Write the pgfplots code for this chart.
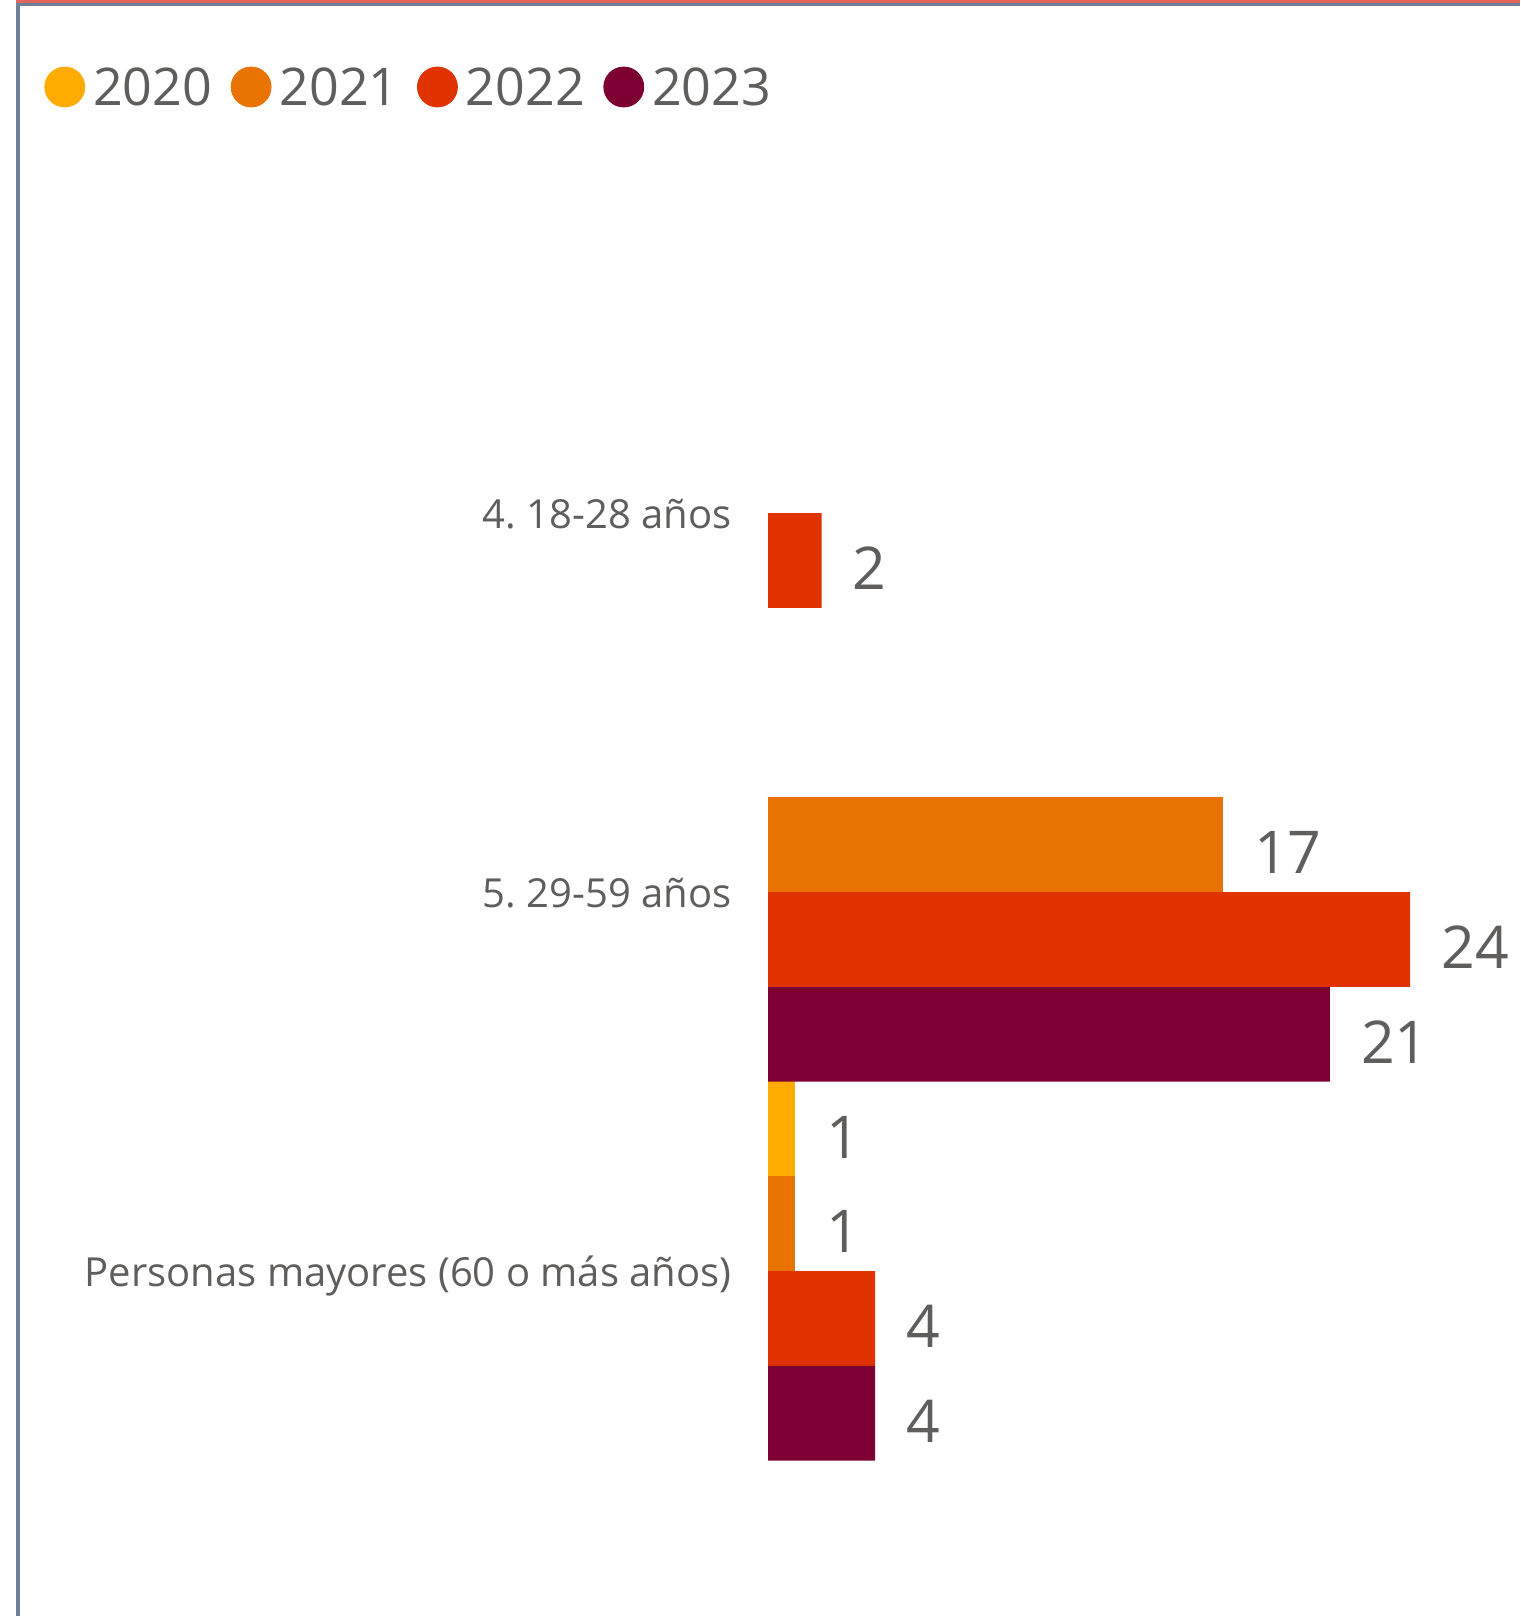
\documentclass[border=0pt]{standalone}
\usepackage{pgfplots}
\pgfplotsset{compat=1.18}
\usepackage{fontspec}
\setmainfont{Open Sans}
\definecolor{c2020}{HTML}{FFAB00}
\definecolor{c2021}{HTML}{E87300}
\definecolor{c2022}{HTML}{E03300}
\definecolor{c2023}{HTML}{7D0033}
\definecolor{txt}{HTML}{605E5C}
\definecolor{bred}{HTML}{E0665C}
\definecolor{bblue}{HTML}{6E7F9A}
\begin{document}
\frenchspacing
\begin{tikzpicture}
\path[use as bounding box] (0,0) rectangle (760pt,-808pt);
\fill[bred] (8pt,0) rectangle (760pt,-1.5pt);
\fill[bblue] (8pt,-1.5pt) rectangle (760pt,-3pt);
\fill[bblue] (8pt,-3pt) rectangle (10pt,-808pt);
\begin{axis}[
  at={(384pt,-635.5pt)}, anchor=origin,
  x=13.375pt, y=189.5pt,
  xmin=0, xmax=28, ymin=-0.868, ymax=3.124,
  enlargelimits=false,
  xbar, bar width=47.4pt,
  axis x line=none, axis y line=left,
  y axis line style={draw=none},
  xtick=\empty,
  ytick={0,1,2},
  yticklabels={Personas mayores (60 o más años), 5. 29-59 años, 4. 18-28 años},
  ytick style={draw=none},
  major tick length=0pt,
  yticklabel style={font=\fontsize{20}{24}\selectfont\frenchspacing, text=txt, anchor=base east, inner sep=0pt, xshift=-18pt, yshift=-7.6pt},
  nodes near coords, point meta=x,
  nodes near coords style={font=\fontsize{29.5}{36}\selectfont, text=txt, anchor=base west, inner sep=0pt, xshift=15.5pt, yshift=-14.6pt},
  /pgf/number format/assume math mode=true,
  legend columns=4,
  legend style={at={(0,1)}, anchor=west, xshift=-362pt, draw=none, fill=none, inner sep=0pt,
    font=\fontsize{26}{32}\selectfont, text=txt, nodes={inner sep=2pt, text depth=0pt},
    /tikz/every odd column/.append style={column sep=2pt},
    /tikz/every even column/.append style={column sep=7.3pt}},
  clip=false,
]
\addlegendimage{legend image code/.code={\fill[c2020] (10pt,0pt) circle[radius=10pt];}}
\addlegendimage{legend image code/.code={\fill[c2021] (10pt,0pt) circle[radius=10pt];}}
\addlegendimage{legend image code/.code={\fill[c2022] (10pt,0pt) circle[radius=10pt];}}
\addlegendimage{legend image code/.code={\fill[c2023] (10pt,0pt) circle[radius=10pt];}}
\addplot[fill=c2020, draw=none, bar shift=71.1pt] coordinates {(1,0)};
\addplot[fill=c2021, draw=none, bar shift=23.7pt] coordinates {(17,1) (1,0)};
\addplot[fill=c2022, draw=none, bar shift=-23.7pt] coordinates {(2,2) (24,1) (4,0)};
\addplot[fill=c2023, draw=none, bar shift=-71.1pt] coordinates {(21,1) (4,0)};
\legend{2020,2021,2022,2023}
\end{axis}
\end{tikzpicture}
\end{document}
